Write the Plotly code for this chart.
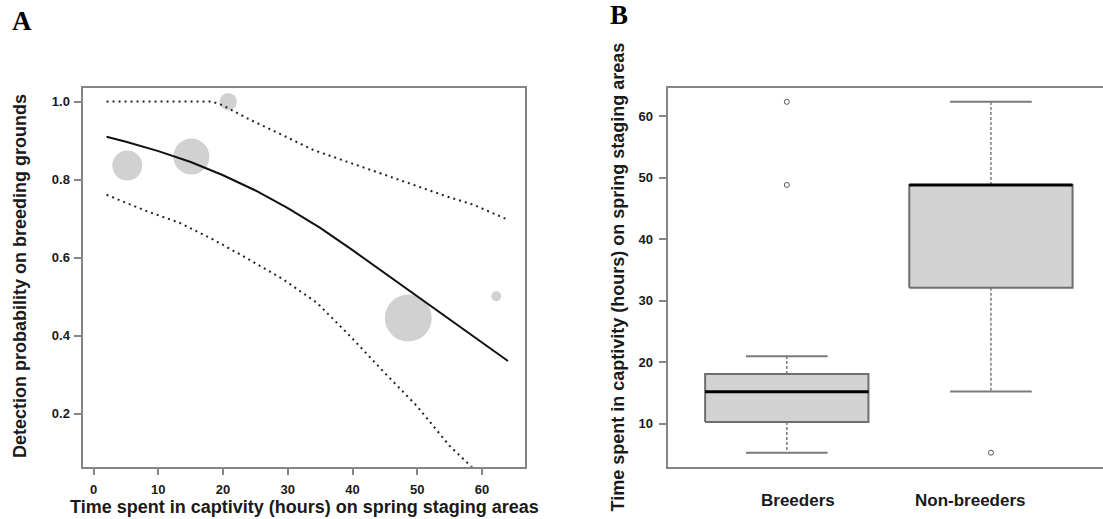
import plotly.graph_objects as go

# ---------------- Panel A data ----------------
obs_hours = [5.2, 15.1, 20.8, 48.6, 62.2]
obs_detect = [0.836, 0.859, 1.0, 0.445, 0.501]
obs_n = [9, 13, 3, 22, 1]

fit_hours = [2, 5, 10, 15, 20, 25, 30, 35, 40, 45, 50, 55, 60, 64]
fit_mean = [0.910, 0.897, 0.873, 0.845, 0.811, 0.772, 0.727, 0.676, 0.619, 0.560, 0.500, 0.440, 0.381, 0.335]

upper_hours = [2, 10, 18.3, 20.0, 23.6, 28.8, 33.9, 39.1, 44.2, 49.4, 54.5, 58.6, 62.3, 64]
upper_ci = [1.0, 1.0, 1.0, 0.990, 0.958, 0.917, 0.876, 0.846, 0.817, 0.787, 0.757, 0.736, 0.710, 0.697]

lower_hours = [2, 8.2, 13.3, 18.5, 23.6, 29.3, 34.5, 39.6, 44.7, 49.9, 55.0, 57.4, 60, 64]
lower_ci = [0.761, 0.719, 0.689, 0.646, 0.599, 0.544, 0.484, 0.399, 0.309, 0.220, 0.117, 0.079, 0.038, -0.025]

x_ticks_a = [0, 10, 20, 30, 40, 50, 60]
y_ticks_a = [0.2, 0.4, 0.6, 0.8, 1.0]
y_ticklabels_a = ["0.2", "0.4", "0.6", "0.8", "1.0"]

# ---------------- Panel B data ----------------
groups = ["Breeders", "Non-breeders"]
group_pos = [1, 2]
q1 = [10.3, 32.1]
medians = [15.2, 48.8]
q3 = [18.1, 48.8]
whisker_lo = [5.3, 15.25]
whisker_hi = [20.95, 62.3]
outlier_group = [1, 1, 2]
outlier_vals = [62.3, 48.8, 5.3]
y_ticks_b = [10, 20, 30, 40, 50, 60]

W, H = 1103, 519
FONT = "Liberation Sans, Arial, sans-serif"
SERIF = "Liberation Serif, Times New Roman, serif"
FRAME = "#858585"
TXT = "#1a1a1a"

fig = go.Figure()

# ----- Panel A traces -----
fig.add_trace(go.Scatter(
    x=obs_hours, y=obs_detect, mode="markers",
    marker=dict(size=obs_n, sizemode="area", sizeref=0.02, color="#bebebe",
                line=dict(width=0)),
    xaxis="x", yaxis="y", showlegend=False, hoverinfo="skip"))
fig.add_trace(go.Scatter(
    x=upper_hours, y=upper_ci, mode="lines",
    line=dict(color="#222222", width=2, dash="2px,4px"),
    xaxis="x", yaxis="y", showlegend=False))
fig.add_trace(go.Scatter(
    x=lower_hours, y=lower_ci, mode="lines",
    line=dict(color="#222222", width=2, dash="2px,4px"),
    xaxis="x", yaxis="y", showlegend=False))
fig.add_trace(go.Scatter(
    x=fit_hours, y=fit_mean, mode="lines",
    line=dict(color="#111111", width=2),
    xaxis="x", yaxis="y", showlegend=False))

# ----- Panel B traces (box plots drawn from summary statistics) -----
BOXW = 0.4
CAPW = 0.2
for g, c in enumerate(group_pos):
    fig.add_trace(go.Scatter(
        x=[c, c, None, c, c], y=[q3[g], whisker_hi[g], None, q1[g], whisker_lo[g]],
        mode="lines", line=dict(color="#7a7a7a", width=1.5, dash="3px,2px"),
        xaxis="x2", yaxis="y2", showlegend=False, hoverinfo="skip"))
    fig.add_trace(go.Scatter(
        x=[c - CAPW, c + CAPW, None, c - CAPW, c + CAPW],
        y=[whisker_hi[g], whisker_hi[g], None, whisker_lo[g], whisker_lo[g]],
        mode="lines", line=dict(color="#7a7a7a", width=2),
        xaxis="x2", yaxis="y2", showlegend=False, hoverinfo="skip"))
    fig.add_trace(go.Scatter(
        x=[c - BOXW, c + BOXW, c + BOXW, c - BOXW, c - BOXW],
        y=[q1[g], q1[g], q3[g], q3[g], q1[g]],
        mode="lines", fill="toself", fillcolor="#d3d3d3",
        line=dict(color="#6e6e6e", width=2),
        xaxis="x2", yaxis="y2", showlegend=False, hoverinfo="skip"))
    fig.add_trace(go.Scatter(
        x=[c - BOXW, c + BOXW], y=[medians[g], medians[g]],
        mode="lines", line=dict(color="#000000", width=3),
        xaxis="x2", yaxis="y2", showlegend=False, hoverinfo="skip"))

fig.add_trace(go.Scatter(
    x=outlier_group, y=outlier_vals, mode="markers",
    marker=dict(symbol="circle-open", size=5, color="#555555", line=dict(width=1)),
    xaxis="x2", yaxis="y2", showlegend=False, hoverinfo="skip"))

ydom = [1 - 466.7 / H, 1 - 87.5 / H]
tickfont = dict(family=FONT, size=13, color=TXT, weight="bold")

fig.update_layout(
    width=W, height=H, margin=dict(l=0, r=0, t=0, b=0),
    paper_bgcolor="white", plot_bgcolor="white",
    xaxis=dict(domain=[83.3 / W, 525 / W], range=[-1.59, 66.63],
               showline=True, mirror=True, linecolor=FRAME, linewidth=1.5,
               showgrid=False, zeroline=False, ticks="outside", ticklen=7,
               tickcolor=FRAME, tickwidth=1.5, tickvals=x_ticks_a,
               tickfont=tickfont, ticklabelstandoff=3, anchor="y"),
    yaxis=dict(domain=ydom, range=[0.064, 1.036],
               showline=True, mirror=True, linecolor=FRAME, linewidth=1.5,
               showgrid=False, zeroline=False, ticks="outside", ticklen=8,
               tickcolor=FRAME, tickwidth=1.5, tickvals=y_ticks_a,
               ticktext=y_ticklabels_a, tickfont=tickfont,
               ticklabelstandoff=1, anchor="x"),
    xaxis2=dict(domain=[668.4 / W, 1.0], range=[0.42, 2.549],
                showline=True, mirror=True, linecolor=FRAME, linewidth=1.5,
                showgrid=False, zeroline=False, showticklabels=False,
                ticks="", anchor="y2"),
    yaxis2=dict(domain=ydom, range=[3.02, 64.63],
                showline=True, mirror=False, linecolor=FRAME, linewidth=1.5,
                showgrid=False, zeroline=False, ticks="outside", ticklen=8,
                tickcolor=FRAME, tickwidth=1.5, tickvals=y_ticks_b,
                tickfont=tickfont, ticklabelstandoff=3, anchor="x2"),
)

title_font = dict(family=FONT, size=18, color=TXT, weight="bold")
xtitle = "Time spent in captivity (hours) on spring staging areas"
anns = [
    dict(text=xtitle, x=304.5 / W, y=1 - 506.7 / H, xref="paper", yref="paper",
         xanchor="center", yanchor="middle", showarrow=False, font=title_font),
    dict(text="Detection probability on breeding grounds", x=19.6 / W, y=1 - 276.5 / H,
         xref="paper", yref="paper", xanchor="center", yanchor="middle",
         textangle=-90, showarrow=False, font=title_font),
    dict(text=xtitle, x=617 / W, y=1 - 277.5 / H,
         xref="paper", yref="paper", xanchor="center", yanchor="middle",
         textangle=-90, showarrow=False, font=title_font),
    dict(text="A", x=21.7 / W, y=1 - 20.5 / H, xref="paper", yref="paper",
         xanchor="center", yanchor="middle", showarrow=False,
         font=dict(family=SERIF, size=27, color="#000", weight="bold")),
    dict(text="B", x=618.8 / W, y=1 - 15.2 / H, xref="paper", yref="paper",
         xanchor="center", yanchor="middle", showarrow=False,
         font=dict(family=SERIF, size=27, color="#000", weight="bold")),
]
label_offsets = [0.055, -0.10]
for g, c in enumerate(group_pos):
    anns.append(dict(text=groups[g], x=c + label_offsets[g], y=1 - 500.7 / H,
                     xref="x2", yref="paper", xanchor="center", yanchor="middle",
                     showarrow=False,
                     font=dict(family=FONT, size=17, color=TXT, weight="bold")))
fig.update_layout(annotations=anns)

fig.write_html("out.html")
